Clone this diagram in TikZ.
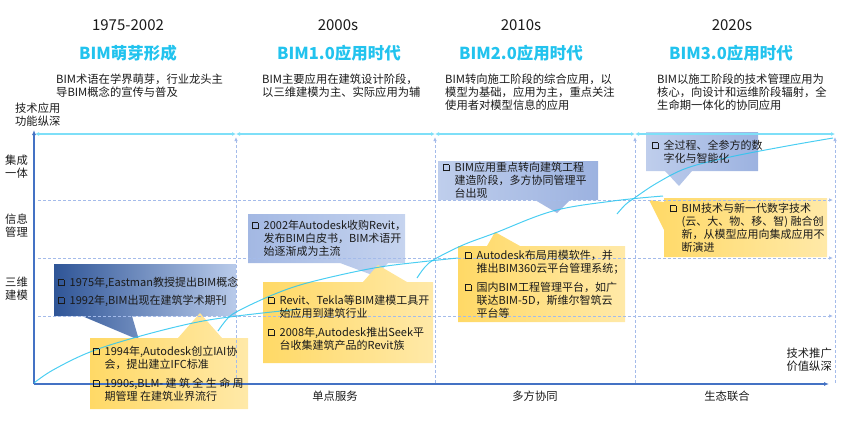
\documentclass[tikz,border=0pt]{standalone}
\usepackage{fontspec}
\setmainfont{Noto Sans CJK SC}
\usetikzlibrary{arrows.meta}
\definecolor{axisblue}{HTML}{4472C4}
\definecolor{gridblue}{HTML}{A4BBEA}
\definecolor{topcyan}{HTML}{7EDFF8}
\definecolor{curvecyan}{HTML}{2CC6F0}
\definecolor{titlecyan}{HTML}{22C3EE}
\definecolor{txt}{HTML}{1A1A1A}
\definecolor{bAa}{HTML}{2F5597}
\definecolor{bAb}{HTML}{9CB3E0}
\definecolor{bAc}{HTML}{B9CBEA}
\definecolor{bCa}{HTML}{A3B8E3}
\definecolor{bCb}{HTML}{C6D4EF}
\definecolor{bEa}{HTML}{BFCEEC}
\definecolor{bEb}{HTML}{9CB2E0}
\definecolor{yla}{HTML}{FFD966}
\definecolor{ylb}{HTML}{FFE9A8}
\def\mybls{13pt}
\newcommand\mylines[1]{\vtop{\let\\\cr\baselineskip=\mybls\lineskiplimit=-10pt\halign{##\hfil\cr#1\crcr}}}
\newcommand\cbx{\raisebox{0.2pt}{\rlap{\rule{0.8pt}{7.2pt}}\rlap{\rule[6.4pt]{6.2pt}{0.8pt}}\rlap{\hspace{5.6pt}\rule{1.6pt}{6.4pt}}\rlap{\hspace{0.8pt}\rule{6.4pt}{1.6pt}}}}
\newcommand\bitem[1]{\makebox[11.5pt][l]{\cbx}\mylines{#1}}
\tikzset{
  gridl/.style={draw=gridblue, line width=0.8pt, dash pattern=on 3pt off 2pt},
  topl/.style={draw=topcyan, line width=1.4pt},
  axisl/.style={draw=axisblue, line width=1.2pt},
  curvel/.style={draw=curvecyan, line width=1pt, opacity=0.85},
  ybox/.style={left color=yla, right color=ylb},
  cbox/.style={left color=bCa, right color=bCb},
  ebox/.style={left color=bEa, right color=bEb},
  yearlbl/.style={font=\fontsize{15}{18}\selectfont, text=txt},
  titlelbl/.style={font=\fontsize{16.5}{20}\selectfont\bfseries, text=titlecyan},
  desc/.style={anchor=base west, font=\fontsize{11.3}{13}\selectfont, text=txt},
  item/.style={anchor=base west, font=\fontsize{11}{13}\selectfont, text=txt},
  axlbl/.style={font=\fontsize{11.3}{13}\selectfont, text=txt},
}
\begin{document}
\begin{tikzpicture}[x=1pt,y=-1pt, every node/.style={inner sep=0pt}]
\useasboundingbox (0,0) rectangle (855,421);

% callout boxes
\shade[left color=bAa, middle color=bAb, right color=bAc] (54,264) -- (236,264) -- (236,316) -- (132,316) -- (139,340) -- (82,316) -- (54,316) -- cycle;
\shade[ybox] (90,338) -- (178,338) -- (200,313) -- (222,338) -- (248,338) -- (248,409) -- (90,409) -- cycle;
\shade[cbox] (248,214) -- (405,214) -- (405,263) -- (388,263) -- (375,276) -- (340,263) -- (248,263) -- cycle;
\shade[ybox] (263,282) -- (363,282) -- (378,265) -- (407,282) -- (433,282) -- (433,363) -- (263,363) -- cycle;
\shade[ebox] (438,161) -- (598,161) -- (598,200) -- (570,200) -- (557,213) -- (535,200) -- (438,200) -- cycle;
\shade[ybox] (458,246) -- (487,246) -- (495,232) -- (520,246) -- (625,246) -- (625,322) -- (458,322) -- cycle;
\shade[ebox] (646,132) -- (758,132) -- (758,171) -- (692,171) -- (679,186) -- (665,171) -- (646,171) -- cycle;
\shade[ybox] (664,198) -- (827,198) -- (827,257) -- (664,257) -- (664,230) -- (649,200) -- (664,202) -- cycle;

% grid
\foreach \x in {236,435,635,835}
  \draw[gridl, -{Latex[length=4pt,width=3.5pt]}] (\x,383) -- (\x,137);
\foreach \y in {200,258,316}
  \draw[gridl, -{Latex[length=4pt,width=3.5pt]}] (38,\y) -- (833,\y);
\foreach \a/\b in {35/236,236/435,435/635,635/835}
  \draw[topl, {Latex[length=4pt,width=4pt]}-{Latex[length=4pt,width=4pt]}] (\a,134) -- (\b,134);

% axes
\coordinate (O) at (34,384);
\coordinate (Ytop) at (34,130);
\coordinate (Xend) at (829,384);
\draw[axisl, -{Latex[length=5pt,width=4pt]}] (O) -- (Ytop);
\draw[axisl, -{Latex[length=5pt,width=4pt]}] (O) -- (Xend);

% curves
\draw[curvel] plot[smooth, tension=0.6] coordinates {(34,383) (53,370) (90,352) (137,337) (193,323) (237,316) (300,309)};
\draw[curvel] plot[smooth, tension=0.6] coordinates {(218,331) (228,318) (240,310) (270,296) (300,285) (340,275) (380,267) (420,262) (458,258)};
\draw[curvel] plot[smooth, tension=0.6] coordinates {(417,278) (425,267) (435,259) (463,245) (495,233) (553,211) (613,201) (663,196)};
\draw[curvel] plot[smooth, tension=0.6] coordinates {(617,214) (625,205) (633,199) (657,183) (687,168) (730,157) (787,146) (833,138)};

% headers
\node[yearlbl] (y1) at (128,25) {1975-2002};
\node[yearlbl] (y2) at (338,25) {2000s};
\node[yearlbl] (y3) at (521,25) {2010s};
\node[yearlbl] (y4) at (732,25) {2020s};
\node[titlelbl] (t1) at (128,53) {BIM萌芽形成};
\node[titlelbl] (t2) at (339,53) {BIM1.0应用时代};
\node[titlelbl] (t3) at (521,53) {BIM2.0应用时代};
\node[titlelbl] (t4) at (731,53) {BIM3.0应用时代};
\node[desc] (d1) at (56,83.5) {\mylines{BIM术语在学界萌芽，行业龙头主\\导BIM概念的宣传与普及}};
\node[desc] (d2) at (262,83.5) {\mylines{BIM主要应用在建筑设计阶段，\\以三维建模为主、实际应用为辅}};
\node[desc] (d3) at (445,83.5) {\mylines{BIM转向施工阶段的综合应用，以\\模型为基础，应用为主，重点关注\\使用者对模型信息的应用}};
\node[desc] (d4) at (657,83.5) {\mylines{BIM以施工阶段的技术管理应用为\\核心，向设计和运维阶段辐射，全\\生命期一体化的协同应用}};

% axis labels
\node[axlbl, anchor=base west] (ylab) at (15,112.5) {\mylines{技术应用\\功能纵深}};
\node[axlbl, anchor=base east] (l1) at (28,164.5) {\mylines{集成\\一体}};
\node[axlbl, anchor=base east] (l2) at (28,223.5) {\mylines{信息\\管理}};
\node[axlbl, anchor=base east] (l3) at (28,286.5) {\mylines{三维\\建模}};
\node[axlbl, anchor=base east] (xlab) at (832,357.5) {\mylines{技术推广\\价值纵深}};
\node[axlbl] (b1) at (335,396) {单点服务};
\node[axlbl] (b2) at (535,396) {多方协同};
\node[axlbl] (b3) at (727,396) {生态联合};

% box texts
\node[item] (a1) at (58,286.5) {\bitem{1975年,Eastman教授提出BIM概念}};
\node[item] (a2) at (58,304.5) {\bitem{1992年,BIM出现在建筑学术期刊}};
\node[item] (bb1) at (93,355.5) {\bitem{1994年,Autodesk创立IAI协\\会，提出建立IFC标准}};
\node[item] (bb2) at (93,387.5) {\bitem{\makebox[139pt][s]{1990s,BLM- 建 筑 全 生 命 周}\\期管理 在建筑业界流行}};
\node[item] (c1) at (252,229.5) {\bitem{2002年Autodesk收购Revit，\\发布BIM白皮书，BIM术语开\\始逐渐成为主流}};
\node[item] (dd1) at (268,304.5) {\bitem{Revit、Tekla等BIM建模工具开\\始应用到建筑行业}};
\node[item] (dd2) at (268,336.5) {\bitem{2008年,Autodesk推出Seek平\\台收集建筑产品的Revit族}};
\node[item] (e1) at (443,171.5) {\bitem{BIM应用重点转向建筑工程\\建造阶段，多方协同管理平\\台出现}};
\node[item] (f1) at (465,259.5) {\bitem{Autodesk布局用模软件，并\\推出BIM360云平台管理系统；}};
\node[item] (f2) at (465,291.5) {\bitem{国内BIM工程管理平台，如广\\联达BIM-5D，斯维尔智筑云\\平台等}};
\node[item] (g1) at (652,149.5) {\bitem{全过程、全参方的数\\字化与智能化}};
\node[item] (h1) at (670,212.5) {\bitem{BIM技术与新一代数字技术\\(云、大、物、移、智) 融合创\\新，从模型应用向集成应用不\\断演进}};
\end{tikzpicture}
\end{document}
